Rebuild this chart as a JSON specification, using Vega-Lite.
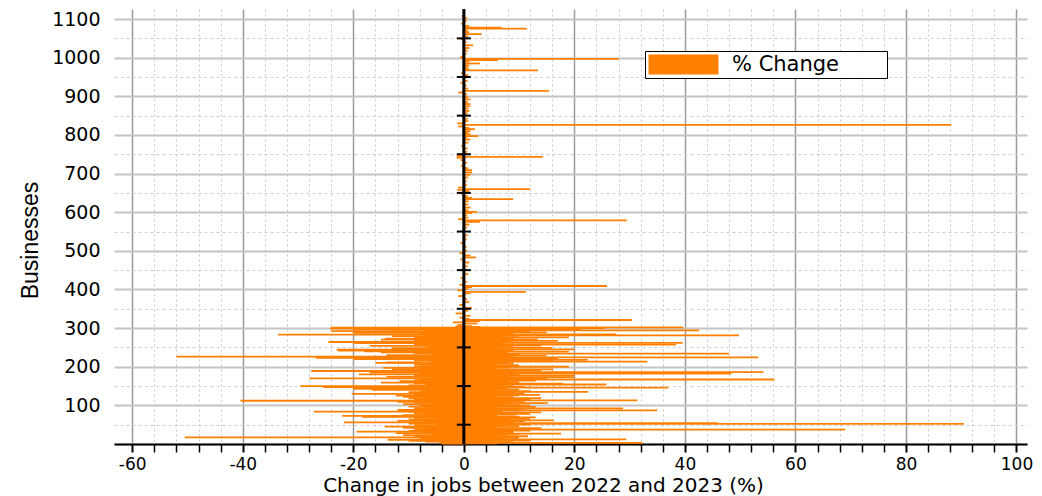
{
  "$schema": "https://vega.github.io/schema/vega-lite/v6.json",
  "width": 913,
  "height": 435,
  "autosize": "none",
  "padding": {"left": 114, "top": 9, "right": 15, "bottom": 52},
  "background": "white",
  "config": {"view": {"stroke": null}},
  "datasets": {
    "jobs": [
      {"id":1,"change":-4},{"id":2,"change":6},{"id":3,"change":32.3},{"id":4,"change":-4.5},{"id":5,"change":9},{"id":6,"change":-7},{"id":7,"change":5},{"id":8,"change":-10},{"id":9,"change":12},{"id":10,"change":-6},
      {"id":11,"change":-13.8},{"id":12,"change":29.4},{"id":13,"change":-5},{"id":14,"change":7},{"id":15,"change":-8},{"id":16,"change":10},{"id":17,"change":-50.5},{"id":18,"change":6},{"id":19,"change":-9},{"id":20,"change":11.6},
      {"id":21,"change":-7},{"id":22,"change":5},{"id":23,"change":-11},{"id":24,"change":8},{"id":25,"change":-6},{"id":26,"change":10},{"id":27,"change":17.6},{"id":28,"change":-12.3},{"id":29,"change":7},{"id":30,"change":-8},
      {"id":31,"change":9},{"id":32,"change":-19.4},{"id":33,"change":6},{"id":34,"change":-10},{"id":35,"change":12},{"id":36,"change":-5},{"id":37,"change":69},{"id":38,"change":-9},{"id":39,"change":8},{"id":40,"change":-7},
      {"id":41,"change":14},{"id":42,"change":-11},{"id":43,"change":6},{"id":44,"change":-8},{"id":45,"change":-14.3},{"id":46,"change":10},{"id":47,"change":-6},{"id":48,"change":7},{"id":49,"change":-9},{"id":50,"change":12},
      {"id":51,"change":-5},{"id":52,"change":90.5},{"id":53,"change":-10},{"id":54,"change":46},{"id":55,"change":-8},{"id":56,"change":-21.7},{"id":57,"change":9},{"id":58,"change":-7},{"id":59,"change":11},{"id":60,"change":-12},
      {"id":61,"change":16.3},{"id":62,"change":-6},{"id":63,"change":8},{"id":64,"change":-10},{"id":65,"change":12},{"id":66,"change":-5},{"id":67,"change":7},{"id":68,"change":-9},{"id":69,"change":13},{"id":70,"change":-18.4},
      {"id":71,"change":10},{"id":72,"change":-8},{"id":73,"change":-22},{"id":74,"change":6},{"id":75,"change":-11},{"id":76,"change":9.5},{"id":77,"change":-7},{"id":78,"change":12},{"id":79,"change":-9},{"id":80,"change":8},
      {"id":81,"change":-6},{"id":82,"change":14},{"id":83,"change":-10},{"id":84,"change":-27.1},{"id":85,"change":7},{"id":86,"change":-8},{"id":87,"change":35},{"id":88,"change":-12},{"id":89,"change":10},{"id":90,"change":-6},
      {"id":91,"change":11},{"id":92,"change":28.8},{"id":93,"change":-9},{"id":94,"change":6},{"id":95,"change":-7},{"id":96,"change":13},{"id":97,"change":-10},{"id":98,"change":8},{"id":99,"change":-5},{"id":100,"change":12},
      {"id":101,"change":-8},{"id":102,"change":7},{"id":103,"change":-11},{"id":104,"change":10},{"id":105,"change":-6},{"id":106,"change":15.2},{"id":107,"change":-9},{"id":108,"change":8},{"id":109,"change":-12},{"id":110,"change":11},
      {"id":111,"change":-7},{"id":112,"change":-40.4},{"id":113,"change":31.4},{"id":114,"change":-9},{"id":115,"change":12},{"id":116,"change":-6},{"id":117,"change":8},{"id":118,"change":-10},{"id":119,"change":14},{"id":120,"change":-7},
      {"id":121,"change":9},{"id":122,"change":-11},{"id":123,"change":6},{"id":124,"change":-8},{"id":125,"change":-12.3},{"id":126,"change":10},{"id":127,"change":13.8},{"id":128,"change":-9},{"id":129,"change":7},{"id":130,"change":-20.3},
      {"id":131,"change":11},{"id":132,"change":-6},{"id":133,"change":9},{"id":134,"change":-10},{"id":135,"change":22.5},{"id":136,"change":-8},{"id":137,"change":12},{"id":138,"change":-7},{"id":139,"change":6},{"id":140,"change":-16.6},
      {"id":141,"change":10},{"id":142,"change":-9},{"id":143,"change":-20},{"id":144,"change":8},{"id":145,"change":-6},{"id":146,"change":37},{"id":147,"change":-25.5},{"id":148,"change":11},{"id":149,"change":-8},{"id":150,"change":-29.6},
      {"id":151,"change":7},{"id":152,"change":-10},{"id":153,"change":9},{"id":154,"change":25.8},{"id":155,"change":-7},{"id":156,"change":18},{"id":157,"change":-9},{"id":158,"change":6},{"id":159,"change":-15},{"id":160,"change":10},
      {"id":161,"change":-6},{"id":162,"change":8},{"id":163,"change":-11.6},{"id":164,"change":13},{"id":165,"change":-9},{"id":166,"change":7},{"id":167,"change":56.2},{"id":168,"change":-8},{"id":169,"change":15},{"id":170,"change":-27.9},
      {"id":171,"change":9},{"id":172,"change":-6},{"id":173,"change":19.9},{"id":174,"change":-14},{"id":175,"change":8},{"id":176,"change":-7},{"id":177,"change":20},{"id":178,"change":-9},{"id":179,"change":6},{"id":180,"change":-19},
      {"id":181,"change":10},{"id":182,"change":48.4},{"id":183,"change":-8},{"id":184,"change":7},{"id":185,"change":-17},{"id":186,"change":54.2},{"id":187,"change":-6},{"id":188,"change":9},{"id":189,"change":-27.6},{"id":190,"change":14},
      {"id":191,"change":-7},{"id":192,"change":8},{"id":193,"change":16.2},{"id":194,"change":-13},{"id":195,"change":6},{"id":196,"change":-8},{"id":197,"change":-14.6},{"id":198,"change":8.3},{"id":199,"change":-6},{"id":200,"change":19},
      {"id":201,"change":-9},{"id":202,"change":7},{"id":203,"change":-5},{"id":204,"change":10},{"id":205,"change":-8},{"id":206,"change":-9},{"id":207,"change":6},{"id":208,"change":-7},{"id":209,"change":9},{"id":210,"change":-16},
      {"id":211,"change":-14},{"id":212,"change":8},{"id":213,"change":33.2},{"id":214,"change":-6},{"id":215,"change":16},{"id":216,"change":-9},{"id":217,"change":7},{"id":218,"change":22.4},{"id":219,"change":-8},{"id":220,"change":-20},
      {"id":221,"change":17},{"id":222,"change":-7},{"id":223,"change":-26.8},{"id":224,"change":53.3},{"id":225,"change":-6},{"id":226,"change":-52},{"id":227,"change":9},{"id":228,"change":-8},{"id":229,"change":15},{"id":230,"change":-14},
      {"id":231,"change":7},{"id":232,"change":-6},{"id":233,"change":10},{"id":234,"change":48},{"id":235,"change":-9},{"id":236,"change":8},{"id":237,"change":-15},{"id":238,"change":6},{"id":239,"change":19},{"id":240,"change":-18},
      {"id":241,"change":9},{"id":242,"change":-22.7},{"id":243,"change":7},{"id":244,"change":-23},{"id":245,"change":20},{"id":246,"change":-8},{"id":247,"change":6},{"id":248,"change":-13},{"id":249,"change":16},{"id":250,"change":-7},
      {"id":251,"change":9},{"id":252,"change":-6},{"id":253,"change":8},{"id":254,"change":-17},{"id":255,"change":14},{"id":256,"change":-8},{"id":257,"change":38.4},{"id":258,"change":-9},{"id":259,"change":7},{"id":260,"change":-6},
      {"id":261,"change":-20},{"id":262,"change":39.6},{"id":263,"change":9},{"id":264,"change":-24.5},{"id":265,"change":8},{"id":266,"change":-7},{"id":267,"change":17},{"id":268,"change":-9},{"id":269,"change":6},{"id":270,"change":-15},
      {"id":271,"change":13.4},{"id":272,"change":-8},{"id":273,"change":-14.3},{"id":274,"change":9},{"id":275,"change":-6},{"id":276,"change":19},{"id":277,"change":-9},{"id":278,"change":7},{"id":279,"change":-13},{"id":280,"change":10},
      {"id":281,"change":49.8},{"id":282,"change":-7},{"id":283,"change":-33.6},{"id":284,"change":27.6},{"id":285,"change":-8},{"id":286,"change":9},{"id":287,"change":-6},{"id":288,"change":-20},{"id":289,"change":15},{"id":290,"change":12},
      {"id":291,"change":-15},{"id":292,"change":-24},{"id":293,"change":8},{"id":294,"change":42.6},{"id":295,"change":-7},{"id":296,"change":21},{"id":297,"change":-20},{"id":298,"change":6},{"id":299,"change":-24.2},{"id":300,"change":25.5},
      {"id":301,"change":-24},{"id":302,"change":39.7},{"id":303,"change":3},{"id":304,"change":-1.5},
      {"id":305,"change":1.5},{"id":308,"change":-1.2},{"id":312,"change":2.5},{"id":315,"change":-2},{"id":318,"change":2.9},{"id":321,"change":30.4},{"id":324,"change":1},{"id":327,"change":-0.8},
      {"id":332,"change":1.2},{"id":338,"change":-1.5},{"id":345,"change":0.8},{"id":352,"change":1.5},{"id":360,"change":-0.8},{"id":368,"change":1},{"id":375,"change":0.6},{"id":383,"change":-1},
      {"id":390,"change":1.2},{"id":394,"change":11.2},{"id":398,"change":-1.2},{"id":402,"change":0.8},{"id":406,"change":1.5},{"id":409,"change":25.9},{"id":412,"change":-0.8},{"id":420,"change":0.6},
      {"id":430,"change":-0.6},{"id":440,"change":0.8},{"id":450,"change":-0.5},{"id":460,"change":0.7},{"id":470,"change":1},{"id":478,"change":-0.6},{"id":483,"change":2.2},{"id":488,"change":1.2},
      {"id":494,"change":-0.8},{"id":500,"change":0.6},{"id":510,"change":0.5},{"id":520,"change":-0.6},{"id":530,"change":0.5},{"id":540,"change":0.7},{"id":550,"change":-0.5},{"id":560,"change":0.6},
      {"id":568,"change":1},{"id":575,"change":2.9},{"id":579,"change":29.5},{"id":582,"change":-1},{"id":586,"change":0.8},{"id":592,"change":0.6},{"id":598,"change":1.5},{"id":601,"change":2.4},
      {"id":605,"change":0.8},{"id":612,"change":1.2},{"id":620,"change":0.8},{"id":628,"change":0.9},{"id":634,"change":8.9},{"id":637,"change":1.5},{"id":642,"change":0.7},{"id":648,"change":-0.6},
      {"id":655,"change":1},{"id":658,"change":-1.2},{"id":660,"change":12},{"id":664,"change":-1},{"id":670,"change":0.6},{"id":680,"change":0.5},{"id":690,"change":0.8},{"id":697,"change":1.2},
      {"id":703,"change":1.5},{"id":709,"change":1.5},{"id":714,"change":0.8},{"id":720,"change":-0.5},{"id":728,"change":0.6},{"id":735,"change":-0.6},{"id":741,"change":-1.3},{"id":743,"change":14.3},
      {"id":746,"change":-1.3},{"id":750,"change":-0.8},{"id":756,"change":0.6},{"id":765,"change":0.7},{"id":772,"change":-0.5},{"id":780,"change":0.8},{"id":788,"change":1.2},{"id":793,"change":0.6},
      {"id":797,"change":2.6},{"id":802,"change":1.2},{"id":806,"change":0.8},{"id":810,"change":1.2},{"id":815,"change":2},{"id":818,"change":1},{"id":822,"change":-1},{"id":826,"change":88.2},
      {"id":830,"change":-1.2},{"id":836,"change":0.8},{"id":842,"change":0.7},{"id":848,"change":-0.5},{"id":856,"change":0.7},{"id":862,"change":1},{"id":868,"change":0.8},{"id":874,"change":1.2},
      {"id":880,"change":1.2},{"id":885,"change":0.7},{"id":892,"change":1.2},{"id":898,"change":0.8},{"id":905,"change":0.6},{"id":910,"change":-1},{"id":914,"change":15.4},{"id":920,"change":0.8},
      {"id":928,"change":0.5},{"id":935,"change":-0.6},{"id":940,"change":0.7},{"id":948,"change":0.5},{"id":955,"change":0.8},{"id":960,"change":-0.5},{"id":967,"change":13.4},{"id":970,"change":1},
      {"id":975,"change":0.8},{"id":980,"change":1},{"id":985,"change":2.9},{"id":990,"change":1},{"id":994,"change":6.2},{"id":997,"change":28},{"id":1000,"change":-0.7},{"id":1003,"change":-0.5},
      {"id":1010,"change":0.5},{"id":1018,"change":0.7},{"id":1025,"change":1},{"id":1032,"change":1.7},{"id":1040,"change":0.5},{"id":1048,"change":-0.6},{"id":1055,"change":0.8},{"id":1061,"change":3.2},
      {"id":1066,"change":1},{"id":1070,"change":0.7},{"id":1075,"change":11.4},{"id":1078,"change":6.8},{"id":1082,"change":1},{"id":1088,"change":-0.5},{"id":1095,"change":0.5},{"id":1102,"change":0.6},{"id":1108,"change":-0.4}
    ],
    "crosses": [
      {"t":50},{"t":150},{"t":250},{"t":350},{"t":450},{"t":550},{"t":650},{"t":750},{"t":850},{"t":950},{"t":1050}
    ]
  },
  "layer": [
    {
      "data": {"name": "jobs"},
      "mark": {"type": "rule", "strokeWidth": 1.8},
      "encoding": {
        "y": {
          "field": "id", "type": "quantitative", "title": "Businesses",
          "scale": {"domain": [0, 1126], "nice": false, "zero": false},
          "axis": {
            "values": [0,50,100,150,200,250,300,350,400,450,500,550,600,650,700,750,800,850,900,950,1000,1050,1100],
            "tickCount": 200,
            "labelExpr": "datum.value % 100 === 0 && datum.value > 0 ? '' + datum.value : ''",
            "labelOverlap": false,
            "domain": false,
            "ticks": false,
            "labelPadding": 14,
            "labelFont": "DejaVu Sans",
            "labelFontSize": 19,
            "labelColor": "black",
            "grid": true,
            "gridColor": {"condition": {"test": "datum.value % 100 === 0", "value": "#c4c4c4"}, "value": "#cfcfcf"},
            "gridWidth": {"condition": {"test": "datum.value % 100 === 0", "value": 2}, "value": 1},
            "gridDash": {"condition": {"test": "datum.value % 100 === 0", "value": []}, "value": [3, 3]},
            "title": "Businesses",
            "titleFont": "Liberation Sans",
            "titleFontSize": 23,
            "titleFontWeight": "normal",
            "titleColor": "black",
            "titleAngle": -90,
            "titleX": -77,
            "titleY": 231,
            "titleAlign": "center",
            "titleBaseline": "alphabetic"
          }
        },
        "x": {
          "field": "change", "type": "quantitative", "title": "Change in jobs between 2022 and 2023 (%)",
          "scale": {"domain": [-63.3, 101.9], "nice": false, "zero": false},
          "axis": {
            "values": [-60,-56,-52,-48,-44,-40,-36,-32,-28,-24,-20,-16,-12,-8,-4,0,4,8,12,16,20,24,28,32,36,40,44,48,52,56,60,64,68,72,76,80,84,88,92,96,100],
            "tickCount": 200,
            "labelExpr": "datum.value % 20 === 0 ? '' + datum.value : ''",
            "labelOverlap": false,
            "labelFlush": false,
            "domainColor": "black",
            "domainWidth": 2,
            "tickColor": "black",
            "tickSize": 8,
            "tickWidth": {"condition": {"test": "datum.value % 20 === 0", "value": 2}, "value": 1.5},
            "labelBaseline": "alphabetic",
            "labelPadding": 17,
            "labelFont": "DejaVu Sans",
            "labelFontSize": 17,
            "labelColor": "black",
            "grid": true,
            "gridColor": {"condition": {"test": "datum.value % 20 === 0", "value": "#9a9a9a"}, "value": "#c8c8c8"},
            "gridWidth": {"condition": {"test": "datum.value % 20 === 0", "value": 1.5}, "value": 1},
            "gridDash": {"condition": {"test": "datum.value % 20 === 0", "value": []}, "value": [2, 3]},
            "title": "Change in jobs between 2022 and 2023 (%)",
            "titleFont": "DejaVu Sans",
            "titleFontSize": 20,
            "titleFontWeight": "normal",
            "titleColor": "black",
            "titleX": 429,
            "titleY": 47.7,
            "titleAlign": "center",
            "titleBaseline": "alphabetic"
          }
        },
        "x2": {"datum": 0},
        "color": {
          "datum": "% Change", "type": "nominal",
          "scale": {"range": ["#ff8000"]},
          "legend": {
            "title": null,
            "orient": "none",
            "legendX": 531,
            "legendY": 42,
            "padding": 3,
            "strokeColor": "black",
            "fillColor": "white",
            "symbolType": "M-1,-1H6V1H-1Z M22.5,0L22.5,0",
            "symbolSize": 400,
            "symbolFillColor": "#ff8000",
            "symbolStrokeColor": "#ff8000",
            "symbolStrokeWidth": 0,
            "symbolOpacity": 1,
            "labelOffset": 63,
            "labelFont": "DejaVu Sans",
            "labelFontSize": 21,
            "labelColor": "black",
            "labelLimit": 400,
            "encode": {"symbols": {"update": {"fill": {"value": "#ff8000"}, "stroke": {"value": "#ff8000"}, "strokeWidth": {"value": 0}, "opacity": {"value": 1}}}}
          }
        }
      }
    },
    {
      "data": {"values": [{}]},
      "mark": {"type": "rule", "color": "black", "strokeWidth": 3},
      "encoding": {"x": {"datum": 0}}
    },
    {
      "data": {"name": "crosses"},
      "mark": {"type": "rule", "color": "black", "strokeWidth": 2},
      "encoding": {
        "y": {"field": "t", "type": "quantitative"},
        "x": {"datum": -1.27},
        "x2": {"datum": 1.27}
      }
    }
  ]
}
